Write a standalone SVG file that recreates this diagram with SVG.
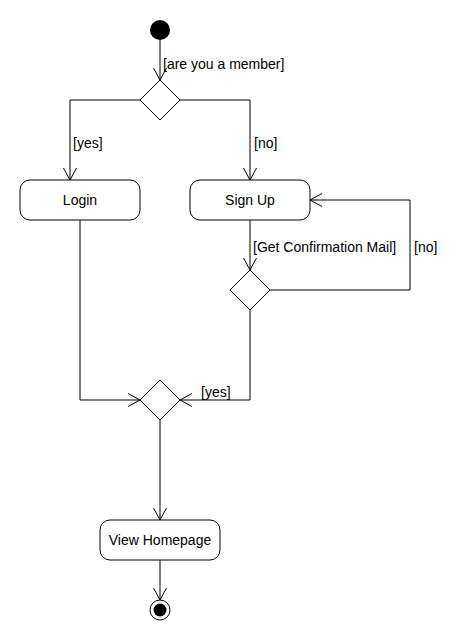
<svg xmlns="http://www.w3.org/2000/svg" width="470" height="640" viewBox="0 0 470 640">
<style>
.n{fill:#fff;stroke:#000;stroke-width:1}
.c{fill:none;stroke:#000;stroke-width:1}
text{font-family:"Liberation Sans",Arial,sans-serif;font-size:14px;fill:#000}
.m{text-anchor:middle}
</style>
<defs>
<marker id="a" markerUnits="userSpaceOnUse" markerWidth="16" markerHeight="16" viewBox="0 0 16 16" refX="14" refY="8" orient="auto">
<path d="M2,1.5 L14,8 L2,14.5" fill="none" stroke="#000" stroke-width="1"/>
</marker>
</defs>
<rect width="470" height="640" fill="#fff"/>
<g id="connectors">
<path class="c" d="M160,40 V80" marker-end="url(#a)"/>
<path class="c" d="M140,100 H70 V180" marker-end="url(#a)"/>
<path class="c" d="M180,100 H250 V180" marker-end="url(#a)"/>
<path class="c" d="M250,220 V270" marker-end="url(#a)"/>
<path class="c" d="M270,290 H410 V200 H310" marker-end="url(#a)"/>
<path class="c" d="M250,310 V400 H180" marker-end="url(#a)"/>
<path class="c" d="M80,220 V400 H140" marker-end="url(#a)"/>
<path class="c" d="M160,420 V520" marker-end="url(#a)"/>
<path class="c" d="M160,560 V600" marker-end="url(#a)"/>
<text x="163" y="69">[are you a member]</text>
<text x="73" y="148">[yes]</text>
<text x="254" y="148">[no]</text>
<text x="253" y="252">[Get Confirmation Mail]</text>
<text x="414" y="252">[no]</text>
<text x="201" y="397">[yes]</text>
</g>
<g id="start"><circle cx="160" cy="30" r="10" fill="#000"/></g>
<g id="decision1"><path class="n" d="M160,80 L180,100 L160,120 L140,100 Z"/></g>
<g id="login"><rect class="n" x="20" y="180" width="120" height="40" rx="10"/><text class="m" x="80" y="205">Login</text></g>
<g id="signup"><rect class="n" x="190" y="180" width="120" height="40" rx="10"/><text class="m" x="250" y="205">Sign Up</text></g>
<g id="decision2"><path class="n" d="M250,270 L270,290 L250,310 L230,290 Z"/></g>
<g id="merge"><path class="n" d="M160,380 L180,400 L160,420 L140,400 Z"/></g>
<g id="homepage"><rect class="n" x="100" y="520" width="120" height="40" rx="10"/><text class="m" x="160" y="545">View Homepage</text></g>
<g id="end"><circle class="n" cx="160" cy="610" r="10"/><circle cx="160" cy="610" r="6.5" fill="#000"/></g>
</svg>
